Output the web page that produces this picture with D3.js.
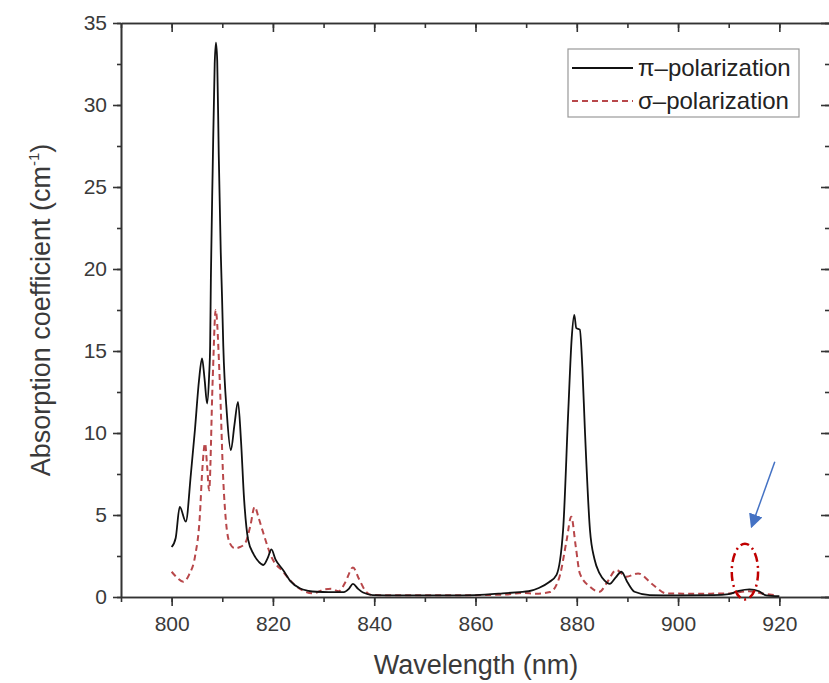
<!DOCTYPE html>
<html>
<head>
<meta charset="utf-8">
<script src="https://cdn.jsdelivr.net/npm/d3@7"></script>
<style>
  body { margin: 0; background: #fff; }
  svg { display: block; font-family: "Liberation Sans", Arial, sans-serif; }
</style>
</head>
<body>
<svg width="829" height="683"></svg>
<script>
// pi-polarization (black, solid)
const piWavelength = [800.0, 800.8, 801.6, 802.8, 803.8, 804.6, 805.4, 806.0, 806.5, 807.0, 807.4, 807.6, 807.75, 808.1, 808.5, 808.75, 809.0, 809.3, 809.7, 809.95, 810.2, 810.9, 811.7, 812.4, 813.1, 813.7, 814.3, 815.1, 816.2, 817.2, 818.1, 819.0, 819.7, 820.5, 822.0, 823.5, 825.3, 827.0, 828.6, 831, 834, 835, 835.8, 836.8, 837.8, 839.7, 845, 850, 855, 860, 865.4, 868.7, 870.5, 872.5, 874.5, 876, 877.3, 878.3, 879.0, 879.5, 879.9, 880.6, 881.1, 881.6, 882.6, 883.5, 884.5, 885.5, 886.5, 887.7, 888.8, 890.0, 891.4, 894.4, 900, 907, 910, 912, 914.1, 916, 917.4, 920];
const piValue = [3.05, 3.6, 5.5, 4.6, 7.5, 10.2, 13.2, 14.55, 13.3, 11.8, 13.5, 15.3, 19.5, 26, 32.5, 33.8, 32.7, 27, 21, 18.3, 15.3, 11.2, 8.95, 10.5, 11.9, 9.5, 6, 3.5, 2.6, 2.15, 1.95, 2.4, 2.9, 2.3, 1.65, 0.95, 0.53, 0.38, 0.32, 0.3, 0.3, 0.5, 0.8, 0.5, 0.27, 0.12, 0.1, 0.1, 0.1, 0.12, 0.22, 0.3, 0.35, 0.55, 0.9, 1.35, 4.1, 11.2, 15.8, 17.2, 16.4, 16.3, 14, 10.2, 4.1, 2.3, 1.44, 1.0, 0.8, 1.2, 1.54, 0.9, 0.32, 0.12, 0.1, 0.12, 0.18, 0.38, 0.47, 0.35, 0.1, 0.05];

// sigma-polarization (red, dashed)
const sigmaWavelength = [800.0, 801.0, 802.3, 803.5, 804.6, 805.6, 806.0, 806.6, 807.0, 807.4, 808.1, 808.7, 809.5, 810.2, 810.7, 811.5, 812.5, 813.5, 814.5, 815.5, 816.4, 817.2, 818.1, 819.7, 822.0, 824.7, 828.0, 830.0, 831.5, 833.0, 834.3, 835.8, 837.0, 838.2, 839.5, 845, 855, 862, 866, 869.3, 872, 874.7, 876.6, 878.0, 878.9, 879.8, 880.6, 882.6, 884.5, 886.0, 887.8, 889.8, 892.1, 895.1, 897.7, 903, 910, 914, 917, 919.4];
const sigmaValue = [1.54, 1.2, 0.93, 1.4, 2.45, 5.1, 7.5, 9.37, 8.0, 6.5, 13.2, 17.5, 13.2, 7.1, 4.7, 3.27, 2.97, 3.05, 3.27, 4.28, 5.5, 4.8, 3.9, 2.45, 1.54, 0.63, 0.22, 0.45, 0.5, 0.35, 0.9, 1.8, 1.1, 0.4, 0.12, 0.1, 0.1, 0.12, 0.15, 0.25, 0.2, 0.3, 1.24, 3.47, 4.9, 3.07, 1.44, 0.63, 0.32, 0.9, 1.65, 1.24, 1.44, 0.73, 0.22, 0.2, 0.22, 0.35, 0.2, 0.1];

const xTicks = [800, 820, 840, 860, 880, 900, 920];
const yTicks = [0, 5, 10, 15, 20, 25, 30, 35];
const seriesNames = ["\u03c0\u2013polarization", "\u03c3\u2013polarization"];

const svg = d3.select("svg");
const mLeft = 121, mRight = 830, mTop = 23, mBottom = 597;
const axisColor = "#333";
const textColor = "#3a3a3a";

const x = d3.scaleLinear().domain([790, 930]).range([mLeft, mRight]);
const y = d3.scaleLinear().domain([0, 35]).range([mBottom, mTop]);

const xMinor = d3.range(790, 931, 10);
const yMinor = d3.range(0, 35.1, 2.5);

// axes: bottom/left outward ticks, top/right inward ticks
function styleAxis(g) {
    g.select(".domain").attr("stroke", axisColor).attr("stroke-width", 1.6);
    g.selectAll(".tick line").attr("stroke", axisColor).attr("stroke-width", 1.6);
    g.selectAll(".tick text").attr("fill", textColor).attr("font-size", 21);
}

// minor ticks first
svg.append("g").attr("transform", `translate(0,${mBottom})`)
    .call(d3.axisBottom(x).tickValues(xMinor).tickSize(5).tickFormat("").tickSizeOuter(0))
    .call(styleAxis);
svg.append("g").attr("transform", `translate(0,${mTop})`)
    .call(d3.axisTop(x).tickValues(xMinor).tickSize(-5).tickFormat("").tickSizeOuter(0))
    .call(styleAxis);
svg.append("g").attr("transform", `translate(${mLeft},0)`)
    .call(d3.axisLeft(y).tickValues(yMinor).tickSize(4).tickFormat("").tickSizeOuter(0))
    .call(styleAxis);
svg.append("g").attr("transform", `translate(${mRight},0)`)
    .call(d3.axisRight(y).tickValues(yMinor).tickSize(-5).tickFormat("").tickSizeOuter(0))
    .call(styleAxis);

// major ticks with labels
svg.append("g").attr("transform", `translate(0,${mBottom})`)
    .call(d3.axisBottom(x).tickValues(xTicks).tickSize(9).tickPadding(10).tickSizeOuter(0))
    .call(styleAxis);
svg.append("g").attr("transform", `translate(0,${mTop})`)
    .call(d3.axisTop(x).tickValues(xTicks).tickSize(-9).tickFormat("").tickSizeOuter(0))
    .call(styleAxis);
svg.append("g").attr("transform", `translate(${mLeft},0)`)
    .call(d3.axisLeft(y).tickValues(yTicks).tickSize(8).tickPadding(6).tickSizeOuter(0))
    .call(styleAxis);
svg.append("g").attr("transform", `translate(${mRight},0)`)
    .call(d3.axisRight(y).tickValues(yTicks).tickSize(-9).tickFormat("").tickSizeOuter(0))
    .call(styleAxis);

// axis titles
svg.append("text")
    .attr("x", 476)
    .attr("y", 674)
    .attr("text-anchor", "middle")
    .attr("font-size", 27)
    .attr("fill", textColor)
    .text("Wavelength (nm)");

const yTitle = svg.append("text")
    .attr("transform", `translate(50,${(mTop + mBottom) / 2}) rotate(-90)`)
    .attr("text-anchor", "middle")
    .attr("font-size", 27)
    .attr("fill", textColor);
yTitle.append("tspan").text("Absorption coefficient (cm");
yTitle.append("tspan").attr("font-size", 15).attr("dy", -11).text("-1");
yTitle.append("tspan").attr("dy", 11).text(")");

// series
const piData = piWavelength.map((w, i) => [w, piValue[i]]);
const sigmaData = sigmaWavelength.map((w, i) => [w, sigmaValue[i]]);

const line = d3.line()
    .x(d => x(d[0]))
    .y(d => y(d[1]))
    .curve(d3.curveMonotoneX);

svg.append("path")
    .datum(sigmaData)
    .attr("fill", "none")
    .attr("stroke", "#b8474a")
    .attr("stroke-width", 2)
    .attr("stroke-dasharray", "6,4")
    .attr("d", line);

svg.append("path")
    .datum(piData)
    .attr("fill", "none")
    .attr("stroke", "#111")
    .attr("stroke-width", 1.8)
    .attr("d", line);

// legend
const legend = svg.append("g").attr("transform", "translate(568,49)");
legend.append("rect")
    .attr("width", 231).attr("height", 68)
    .attr("fill", "#fff")
    .attr("stroke", "#999").attr("stroke-width", 1.2);
const legendRows = [
    { name: seriesNames[0], color: "#111", dash: null, w: 1.8 },
    { name: seriesNames[1], color: "#b8474a", dash: "6,4", w: 2 }
];
legendRows.forEach((r, i) => {
    const yy = 19 + i * 33;
    legend.append("line")
        .attr("x1", 4).attr("x2", 65).attr("y1", yy).attr("y2", yy)
        .attr("stroke", r.color).attr("stroke-width", r.w)
        .attr("stroke-dasharray", r.dash);
    legend.append("text")
        .attr("x", 70).attr("y", yy + 8)
        .attr("font-size", 24)
        .attr("fill", "#222")
        .text(r.name);
});

// annotations: dash-dot ellipse and blue arrow
svg.append("ellipse")
    .attr("cx", x(913.2)).attr("cy", y(1.55))
    .attr("rx", x(915.8) - x(913.2)).attr("ry", y(0) - y(1.7))
    .attr("fill", "none")
    .attr("stroke", "#c00000")
    .attr("stroke-width", 2.5)
    .attr("stroke-dasharray", "9,4,2,4");

svg.append("defs").append("marker")
    .attr("id", "arrowhead")
    .attr("viewBox", "0 0 10 10")
    .attr("refX", 9).attr("refY", 5)
    .attr("markerWidth", 14).attr("markerHeight", 14)
    .attr("markerUnits", "userSpaceOnUse")
    .attr("orient", "auto")
    .append("path")
    .attr("d", "M0,0 L10,5 L0,10 z")
    .attr("fill", "#4472c4");

svg.append("line")
    .attr("x1", x(919.1)).attr("y1", y(8.25))
    .attr("x2", x(914.5)).attr("y2", y(4.28))
    .attr("stroke", "#4472c4")
    .attr("stroke-width", 1.5)
    .attr("marker-end", "url(#arrowhead)");
</script>
</body>
</html>
